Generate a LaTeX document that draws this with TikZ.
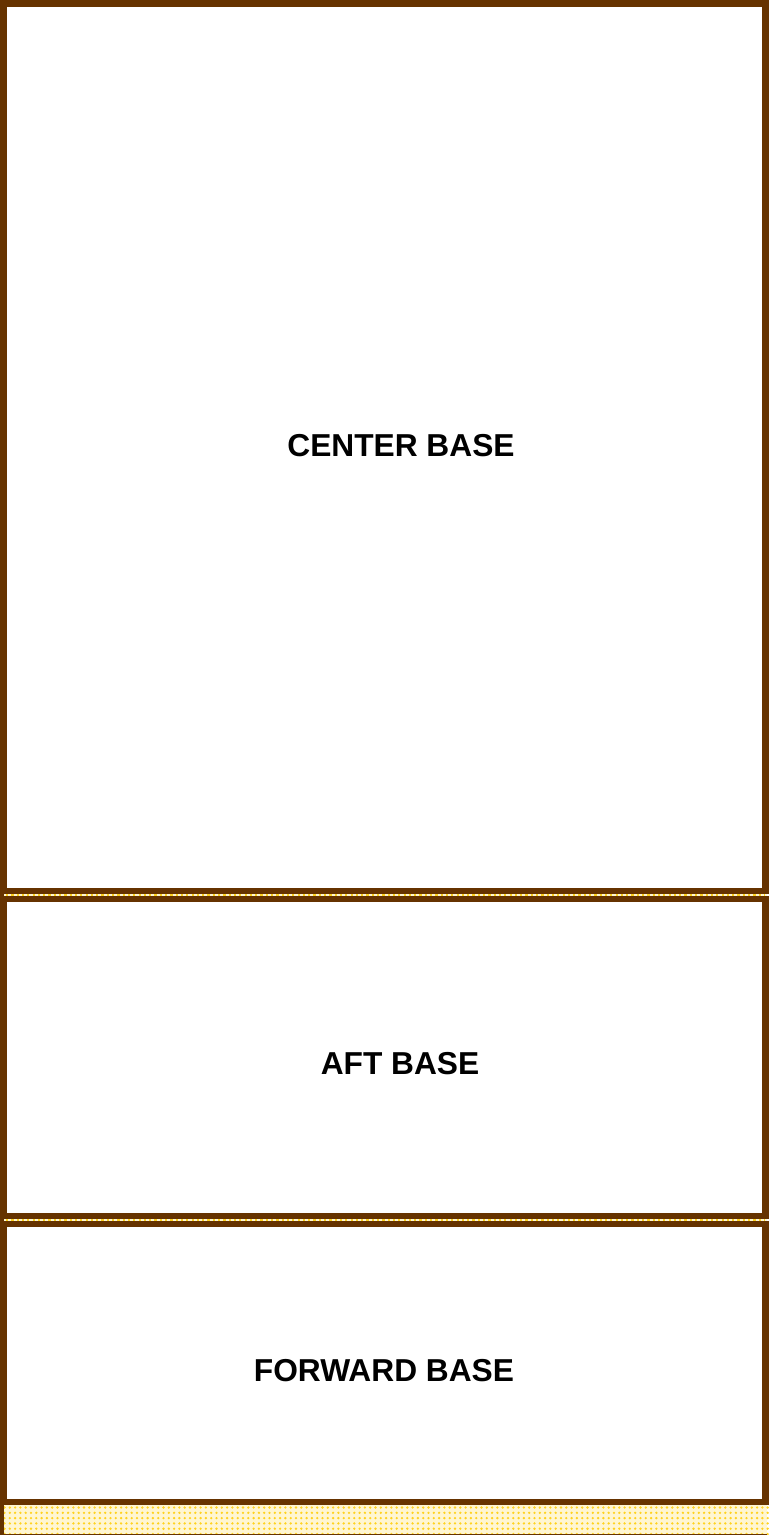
\documentclass[tikz,border=0pt]{standalone}
\usepackage{fontspec}
\setmainfont{Liberation Sans}
\usepackage{tikz}
\usepackage{xcolor}
\usetikzlibrary{positioning}
\definecolor{basebrown}{HTML}{663300}
\definecolor{dotyellow}{HTML}{FFD21F}
\definecolor{paleyellow}{HTML}{FFF6D2}
\tikzset{
  basebox/.style={draw=basebrown,fill=white,line width=6.5pt},
  baselabel/.style={font=\fontsize{31.7}{38}\selectfont\bfseries,inner sep=0pt}
}

\begin{document}
\begin{tikzpicture}[x=1pt,y=-1pt]
\useasboundingbox(0,0)rectangle(769,1535);
% dotted yellow ground
\fill[paleyellow](0,0)rectangle(767,1535);
\foreach \i in {0,...,144}
  \foreach \j in {0,...,5}
    \fill[dotyellow](4.5+5.3*\i,1507.5+5.3*\j)circle[radius=1.3];
\draw[basebrown,line width=4pt](2,880)--(2,1535);
\draw[basebrown,line width=1.5pt](0,1534.25)--(767,1534.25);
% the three bases
\draw[basebox](3.5,3.25)rectangle(765.5,890.75);
\draw[basebox](3.5,899)rectangle(765.5,1216);
\draw[basebox](3.5,1224)rectangle(765.5,1502);
% dots in the gaps
\foreach \y in {895,1220}
  \draw[dotyellow,line width=1.8pt,dash pattern=on 2.2pt off 3.1pt](6,\y)--(764,\y);
\node[baselabel](center)at(401,446){CENTER BASE};
\node[baselabel](aft)at(400,1064){AFT BASE};
\node[baselabel](forward)at(384,1371){FORWARD BASE};
\end{tikzpicture}
\end{document}
